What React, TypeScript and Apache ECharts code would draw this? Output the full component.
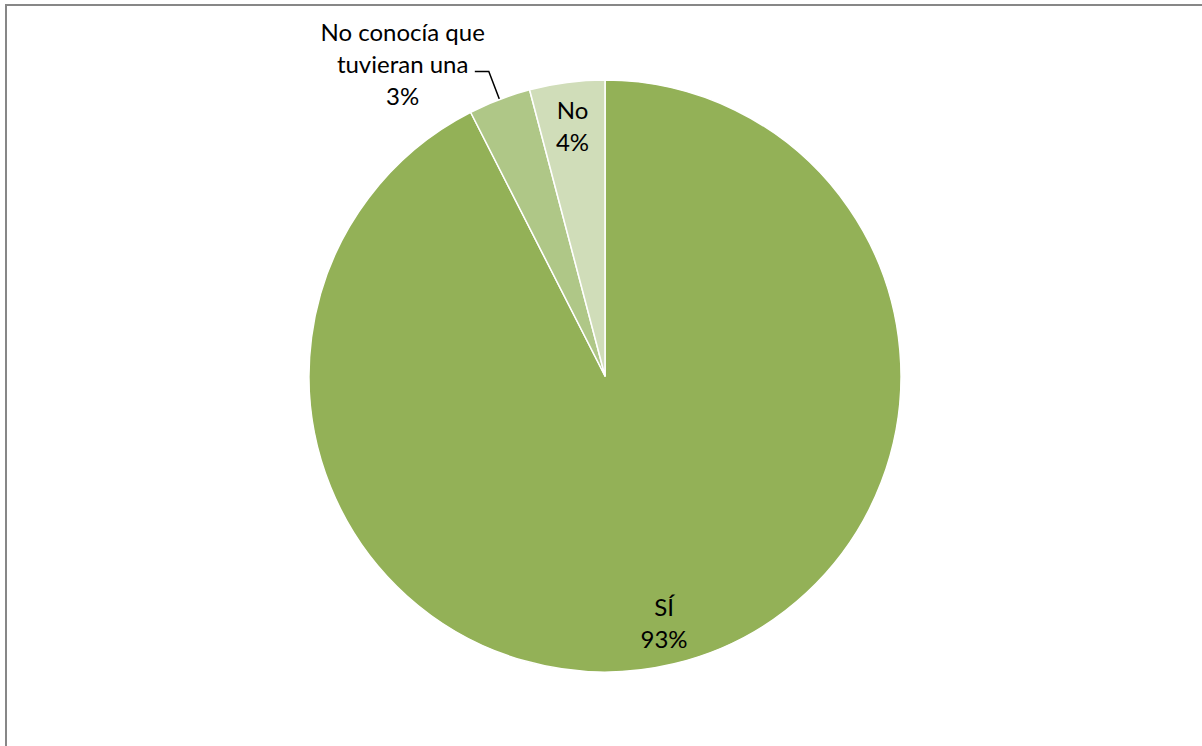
import React, { useEffect, useRef } from "react";
import * as echarts from "echarts";

const categories = ["SÍ", "No conocía que tuvieran una", "No"];
const labelLines = [["SÍ"], ["No conocía que", "tuvieran una"], ["No"]];
const values = [92.5, 3.4, 4.1];
const colors = ["#93B157", "#AFC787", "#D0DDB9"];

export default function App() {
  const ref = useRef<HTMLDivElement>(null);
  useEffect(() => {
    const chart = echarts.init(ref.current!, null, { renderer: "svg" });
    const center = [605, 376];
    const R = 296;
    const font = "Lato";
    const fontSize = 24;
    const lineHeight = 32;
    const option: any = {
      animation: false,
      backgroundColor: "#ffffff",
      graphic: [
        {
          type: "rect",
          silent: true,
          shape: { x: 6, y: 5, width: 1400, height: 1000 },
          style: { fill: "none", stroke: "#878787", lineWidth: 2 },
        },
      ],
      series: [
        {
          type: "pie",
          center,
          radius: R,
          startAngle: 90,
          clockwise: true,
          percentPrecision: 0,
          avoidLabelOverlap: false,
          label: { show: false },
          labelLine: { show: false },
          emphasis: { disabled: true },
          itemStyle: { borderColor: "#ffffff", borderWidth: 1.5 },
          data: categories.map((c, i) => ({
            name: c,
            value: values[i],
            itemStyle: { color: colors[i] },
          })),
        },
        {
          type: "pie",
          center,
          radius: [204, R],
          startAngle: 90,
          clockwise: true,
          percentPrecision: 0,
          avoidLabelOverlap: false,
          silent: true,
          emphasis: { disabled: true },
          itemStyle: { color: "rgba(0,0,0,0)", borderWidth: 0 },
          label: {
            show: true,
            position: "inside",
            color: "#000000",
            fontFamily: font,
            fontSize,
            lineHeight,
            formatter: (p: any) =>
              labelLines[p.dataIndex].join("\n") + "\n" + p.percent + "%",
          },
          labelLine: { show: false },
          data: categories.map((c, i) => {
            const item: any = { name: c, value: values[i] };
            if (i === 1) {
              item.label = {
                position: "outside",
                distanceToLabelLine: -10,
                padding: [0, 0, 16, 0],
                formatter: (p: any) =>
                  labelLines[p.dataIndex].map((l) => "{c|" + l + "}").join("\n") +
                  "\n{c|" + p.percent + "%}",
                rich: {
                  c: {
                    align: "center",
                    fontFamily: font,
                    fontSize,
                    lineHeight,
                    color: "#000000",
                  },
                },
              };
              item.labelLine = {
                show: true,
                length: 30,
                length2: 14,
                lineStyle: { color: "#000000", width: 1.5 },
              };
            }
            return item;
          }),
        },
      ],
    };
    chart.setOption(option);
    return () => chart.dispose();
  }, []);
  return (
    <div
      ref={ref}
      style={{ position: "absolute", left: 0, top: 0, width: 1202, height: 746 }}
    />
  );
}
